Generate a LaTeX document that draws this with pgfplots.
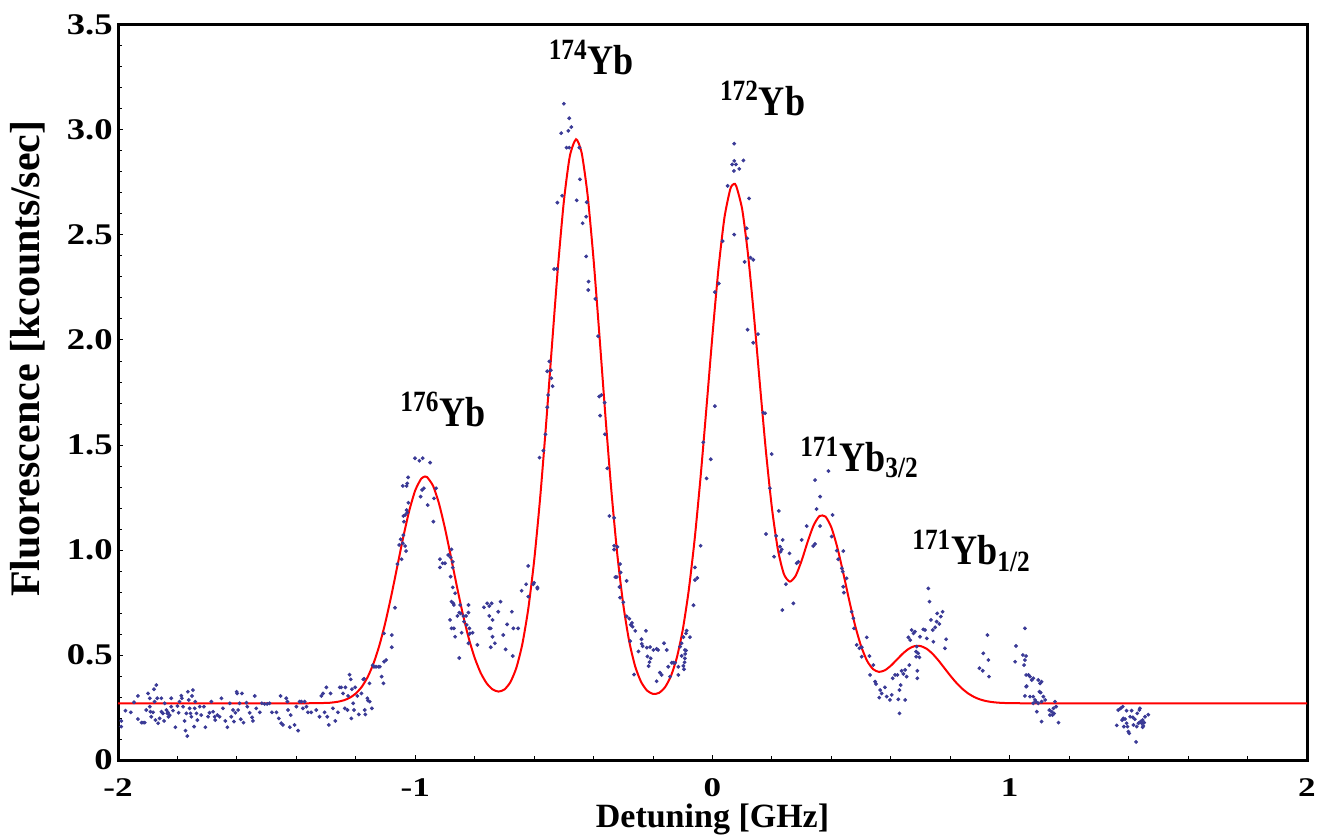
\documentclass[border=0pt]{standalone}
\usepackage{fontspec}
\setmainfont{Liberation Serif}
\newfontfamily\tickfont{Liberation Serif}[FakeStretch=1.22]
\newfontfamily\xtickfont{Liberation Serif}[FakeStretch=1.3]
\newfontfamily\peakfont{Liberation Serif}[FakeStretch=0.86]
\usepackage{pgfplots}
\pgfplotsset{compat=1.18}
\definecolor{dotblue}{RGB}{58,58,150}
\definecolor{fitred}{RGB}{255,0,0}
\begin{document}
\begin{tikzpicture}
\begin{axis}[
  scale only axis, width=594.5pt, height=367.5pt,
  xmin=-2, xmax=2, ymin=0, ymax=3.5,
  axis line style={line width=1.5pt},
  tick align=inside, xtick pos=bottom, ytick pos=left,
  xtick={-2,-1,0,1,2}, xticklabels={-2,-1,0,1,2},
  ytick={0,0.5,1,1.5,2,2.5,3,3.5},
  yticklabels={0,0.5,1.0,1.5,2.0,2.5,3.0,3.5},
  minor x tick num=4, minor y tick num=4,
  major tick length=2.5pt, minor tick length=2pt,
  every tick/.style={line width=0.5pt, black},
  yticklabel style={font=\fontsize{15}{18}\selectfont\tickfont\bfseries, inner sep=0pt, xshift=-2.5pt},
  xticklabel style={font=\fontsize{13.5}{16}\selectfont\xtickfont\bfseries, inner sep=0pt, yshift=-9pt},
  xlabel={Detuning [GHz]}, ylabel={Fluorescence [kcounts/sec]},
  xlabel style={font=\fontsize{17}{20}\selectfont\bfseries, inner sep=0pt,
                at={(axis description cs:0.5,-0.0595)},anchor=north},
  ylabel style={font=\fontsize{21}{24}\selectfont\bfseries,
                at={(axis description cs:-0.0757,0.546)},anchor=center},
]
\coordinate (ll) at (rel axis cs:0,0);
\coordinate (ur) at (rel axis cs:1,1);
% measured data
\addplot[only marks, mark=*, mark size=0.75pt, dotblue] coordinates {
(-1.989,0.186)(-1.989,0.159)(-1.975,0.235)(-1.957,0.227)(-1.946,0.275)(-1.933,0.305)(-1.933,0.195)(-1.921,0.178)(-1.916,0.178)(-1.910,0.178)
(-1.905,0.238)(-1.899,0.317)(-1.893,0.294)(-1.893,0.254)(-1.891,0.230)(-1.888,0.206)(-1.882,0.227)(-1.879,0.337)(-1.877,0.278)(-1.874,0.190)
(-1.871,0.357)(-1.868,0.294)(-1.865,0.175)(-1.860,0.198)(-1.854,0.230)(-1.854,0.294)(-1.849,0.222)(-1.845,0.186)(-1.843,0.270)(-1.837,0.238)
(-1.834,0.222)(-1.832,0.227)(-1.830,0.206)(-1.826,0.214)(-1.821,0.294)(-1.821,0.254)(-1.815,0.235)(-1.807,0.156)(-1.800,0.257)(-1.796,0.225)
(-1.793,0.278)(-1.787,0.306)(-1.785,0.294)(-1.781,0.254)(-1.776,0.186)(-1.773,0.140)(-1.770,0.222)(-1.767,0.114)(-1.765,0.325)(-1.762,0.286)
(-1.759,0.246)(-1.756,0.222)(-1.753,0.206)(-1.751,0.305)(-1.748,0.333)(-1.744,0.159)(-1.742,0.246)(-1.740,0.278)(-1.736,0.222)(-1.733,0.190)
(-1.725,0.254)(-1.720,0.214)(-1.711,0.254)(-1.706,0.156)(-1.697,0.206)(-1.692,0.225)(-1.686,0.278)(-1.680,0.230)(-1.675,0.206)(-1.673,0.190)
(-1.666,0.214)(-1.658,0.206)(-1.652,0.294)(-1.647,0.246)(-1.639,0.186)(-1.632,0.156)(-1.624,0.270)(-1.619,0.206)(-1.613,0.238)(-1.610,0.183)
(-1.605,0.225)(-1.601,0.325)(-1.599,0.317)(-1.596,0.238)(-1.591,0.270)(-1.587,0.194)(-1.583,0.317)(-1.578,0.178)(-1.568,0.273)(-1.565,0.254)
(-1.557,0.225)(-1.549,0.203)(-1.546,0.186)(-1.540,0.305)(-1.535,0.246)(-1.523,0.227)(-1.516,0.270)(-1.507,0.267)(-1.498,0.267)(-1.490,0.270)
(-1.482,0.227)(-1.467,0.227)(-1.459,0.198)(-1.453,0.305)(-1.451,0.175)(-1.445,0.167)(-1.434,0.294)(-1.430,0.278)(-1.428,0.238)(-1.422,0.156)
(-1.419,0.214)(-1.406,0.167)(-1.400,0.254)(-1.394,0.140)(-1.389,0.278)(-1.383,0.278)(-1.378,0.246)(-1.372,0.278)(-1.366,0.254)(-1.361,0.227)
(-1.350,0.227)(-1.333,0.238)(-1.322,0.206)(-1.316,0.305)(-1.310,0.317)(-1.305,0.227)(-1.299,0.346)(-1.296,0.206)(-1.291,0.167)(-1.285,0.317)
(-1.277,0.246)(-1.269,0.186)(-1.260,0.227)(-1.254,0.346)(-1.249,0.346)(-1.243,0.317)(-1.237,0.246)(-1.235,0.346)(-1.228,0.238)(-1.226,0.305)
(-1.221,0.406)(-1.217,0.384)(-1.215,0.198)(-1.213,0.337)(-1.209,0.270)(-1.206,0.238)(-1.202,0.346)(-1.195,0.305)(-1.190,0.217)(-1.181,0.317)
(-1.172,0.387)(-1.170,0.238)(-1.168,0.217)(-1.159,0.283)(-1.153,0.278)(-1.146,0.246)
(-1.175,0.384)(-1.161,0.294)(-1.154,0.365)(-1.143,0.451)(-1.139,0.444)(-1.132,0.444)(-1.124,0.444)(-1.119,0.444)(-1.113,0.397)(-1.107,0.365)
(-1.105,0.468)(-1.098,0.476)(-1.105,0.603)(-1.079,0.595)(-1.079,0.537)(-1.068,0.725)(-1.060,0.933)(-1.054,1.024)(-1.049,1.051)(-1.046,0.956)
(-1.042,1.032)(-1.040,1.071)(-1.038,1.135)(-1.034,1.019)(-1.031,0.995)(-1.040,1.162)(-1.034,1.167)(-1.029,1.190)(-1.027,1.178)(-1.023,1.225)
(-1.042,1.305)(-1.029,1.305)(-1.027,1.317)(-1.024,1.346)(-1.001,1.437)(-0.986,1.425)(-0.975,1.437)(-0.950,1.416)(-0.982,1.254)(-0.977,1.286)
(-0.971,1.294)(-0.958,1.214)(-0.939,1.135)(-0.937,1.246)(-0.930,1.294)(-0.917,0.956)(-0.917,0.917)(-0.908,0.937)(-0.900,0.937)(-0.889,0.976)
(-0.881,0.965)(-0.878,1.003)(-0.874,0.944)(-0.874,0.916)(-0.881,0.873)(-0.874,0.822)(-0.878,0.754)(-0.872,0.746)(-0.866,0.794)(-0.870,0.738)
(-0.883,0.667)(-0.878,0.627)(-0.870,0.627)(-0.866,0.587)(-0.858,0.686)(-0.852,0.702)(-0.849,0.738)(-0.847,0.698)(-0.844,0.606)(-0.838,0.686)
(-0.836,0.659)(-0.829,0.686)(-0.827,0.643)(-0.821,0.738)(-0.821,0.702)(-0.818,0.627)(-0.818,0.600)(-0.816,0.603)(-0.807,0.606)(-0.852,0.486)
(-0.821,0.556)(-0.791,0.548)(-0.769,0.727)(-0.758,0.746)(-0.751,0.733)(-0.751,0.686)(-0.751,0.627)(-0.746,0.627)(-0.743,0.746)(-0.746,0.537)
(-0.740,0.587)(-0.740,0.667)(-0.732,0.556)(-0.721,0.706)(-0.713,0.754)(-0.704,0.595)(-0.696,0.527)(-0.691,0.646)(-0.675,0.706)(-0.672,0.495)
(-0.670,0.627)(-0.654,0.627)(-0.642,0.806)(-0.627,0.837)(-0.620,0.924)(-0.620,0.778)(-0.603,0.837)(-0.589,0.816)
(-0.500,3.125)(-0.482,3.056)(-0.475,3.014)(-0.485,2.996)(-0.509,2.985)(-0.491,2.916)(-0.482,2.916)(-0.448,2.916)(-0.446,2.765)(-0.506,2.687)
(-0.522,2.654)(-0.457,2.665)(-0.423,2.656)(-0.425,2.587)(-0.437,2.556)(-0.533,2.338)(-0.524,2.338)(-0.425,2.398)(-0.417,2.278)(-0.418,2.238)
(-0.394,2.196)(-0.549,1.898)(-0.556,1.851)(-0.544,1.856)(-0.542,1.818)(-0.538,1.780)(-0.553,1.738)(-0.556,1.680)(-0.385,2.018)(-0.381,1.731)
(-0.374,1.738)(-0.363,1.702)(-0.378,1.640)(-0.362,1.551)(-0.562,1.551)(-0.569,1.473)(-0.582,1.440)(-0.354,1.389)(-0.347,1.162)(-0.331,1.153)
(-0.331,1.020)(-0.320,1.015)(-0.331,1.002)(-0.311,0.933)(-0.309,0.893)(-0.327,0.871)(-0.322,0.871)(-0.289,0.853)(-0.313,0.824)(-0.311,0.773)
(-0.600,0.844)(-0.589,0.822)(-0.300,0.751)(-0.289,0.684)(-0.280,0.673)(-0.275,0.644)(-0.269,0.635)(-0.271,0.653)(-0.260,0.615)(-0.224,0.615)
(-0.277,0.566)(-0.239,0.575)(-0.238,0.553)(-0.235,0.542)(-0.221,0.535)(-0.210,0.538)(-0.199,0.524)(-0.249,0.517)(-0.219,0.493)(-0.208,0.484)
(-0.188,0.529)(-0.183,0.524)(-0.212,0.466)(-0.215,0.447)(-0.264,0.407)(-0.188,0.375)
(-0.177,0.416)(-0.171,0.405)(-0.163,0.556)(-0.154,0.524)(-0.149,0.444)(-0.143,0.397)(-0.137,0.463)(-0.132,0.463)(-0.126,0.463)(-0.115,0.444)
(-0.115,0.405)(-0.109,0.540)(-0.104,0.556)(-0.098,0.448)(-0.093,0.484)(-0.093,0.524)(-0.089,0.603)
(0.073,2.935)(0.066,2.836)(0.073,2.853)(0.079,2.836)(0.072,2.805)(0.090,2.815)(0.104,2.855)(0.051,2.734)(0.123,2.674)(0.073,2.502)
(0.034,2.471)(0.115,2.532)(0.117,2.484)(0.128,2.392)(0.137,2.382)(0.108,2.372)(0.021,2.269)(0.008,2.228)(0.118,2.049)(0.153,2.028)
(0.137,1.987)(0.008,1.685)(-0.031,1.513)(-0.006,1.432)(-0.020,1.341)(-0.040,1.020)(-0.059,0.917)(-0.059,0.857)(-0.051,0.867)(-0.064,0.737)
(-0.076,0.585)(-0.087,0.616)(-0.098,0.585)(-0.089,0.522)(-0.092,0.505)(-0.104,0.496)(-0.094,0.465)(-0.096,0.432)
(0.171,1.654)(0.177,1.651)(0.199,1.457)(0.193,1.294)(0.180,1.076)(0.214,1.067)(0.207,0.968)(0.223,1.186)(0.227,1.016)(0.229,0.992)
(0.233,1.003)(0.236,1.048)(0.259,0.984)(0.247,0.837)(0.235,0.714)(0.272,0.746)(0.283,0.937)(0.289,0.944)(0.300,1.048)(0.317,1.114)
(0.339,1.019)(0.345,1.333)(0.350,1.195)(0.362,1.254)(0.362,1.114)(0.345,1.029)(0.390,1.376)(0.404,1.167)(0.401,1.064)(0.418,0.997)
(0.423,0.956)(0.435,0.913)(0.438,0.897)(0.440,0.995)(0.440,0.825)(0.442,0.797)(0.451,0.865)(0.468,0.706)(0.474,0.675)(0.476,0.627)
(0.485,0.548)(0.494,0.532)(0.502,0.537)(0.502,0.492)(0.519,0.584)(0.528,0.495)(0.530,0.405)(0.541,0.452)(0.547,0.373)(0.550,0.362)
(0.564,0.333)(0.561,0.297)(0.569,0.317)(0.580,0.346)(0.586,0.302)(0.597,0.286)(0.603,0.310)(0.606,0.389)(0.614,0.405)(0.622,0.405)
(0.629,0.333)(0.625,0.289)(0.629,0.222)(0.633,0.357)(0.636,0.425)(0.642,0.410)(0.648,0.429)(0.648,0.286)(0.653,0.397)(0.662,0.452)
(0.670,0.619)(0.681,0.611)(0.685,0.516)(0.689,0.425)(0.689,0.389)(0.692,0.508)(0.696,0.489)(0.685,0.492)(0.698,0.587)(0.709,0.622)
(0.715,0.619)(0.721,0.579)(0.726,0.817)(0.730,0.754)(0.735,0.667)(0.741,0.619)(0.743,0.563)(0.749,0.632)(0.754,0.659)(0.756,0.698)
(0.763,0.648)(0.768,0.683)(0.774,0.706)(0.782,0.532)(0.786,0.575)(0.659,0.584)(0.665,0.571)(0.676,0.603)(0.687,0.540)
(0.898,0.437)(0.909,0.425)(0.911,0.508)(0.925,0.595)(0.928,0.476)(0.930,0.397)
(1.051,0.627)(1.021,0.543)(1.018,0.468)(1.044,0.500)(1.051,0.476)(1.055,0.495)(1.048,0.452)(1.055,0.405)(1.063,0.405)(1.068,0.397)
(1.057,0.352)(1.055,0.349)(1.074,0.381)(1.079,0.389)(1.096,0.381)(1.102,0.365)(1.107,0.373)(1.100,0.325)(1.104,0.321)(1.051,0.305)
(1.068,0.302)(1.079,0.302)(1.088,0.278)(1.096,0.270)(1.107,0.278)(1.113,0.302)(1.119,0.286)(1.091,0.230)(1.107,0.183)(1.133,0.238)
(1.141,0.230)(1.147,0.246)(1.149,0.222)(1.152,0.278)(1.156,0.254)(1.144,0.214)(1.164,0.178)(1.135,0.214)(1.079,0.270)(1.085,0.286)
(1.360,0.165)(1.365,0.238)(1.373,0.246)(1.380,0.254)(1.382,0.198)(1.388,0.195)(1.393,0.235)(1.393,0.175)(1.396,0.159)(1.399,0.135)
(1.402,0.127)(1.405,0.206)(1.410,0.235)(1.414,0.203)(1.416,0.167)(1.421,0.194)(1.425,0.086)(1.427,0.159)(1.429,0.222)(1.433,0.175)
(1.436,0.238)(1.438,0.246)(1.440,0.183)(1.444,0.175)(1.447,0.190)(1.449,0.162)(1.452,0.178)(1.455,0.206)(1.466,0.216)(1.447,0.156)
(1.384,0.159)(1.378,0.190)
};
% fit
\addplot[fitred, line width=1pt, smooth, tension=0.4] coordinates {
(-2.00,0.27)(-1.40,0.27)(-1.30,0.2718)(-1.28,0.2737)(-1.26,0.2775)(-1.24,0.2845)(-1.22,0.2967)(-1.20,0.3168)
(-1.18,0.3484)(-1.16,0.3954)(-1.14,0.4615)(-1.12,0.5491)(-1.10,0.6585)(-1.08,0.7862)(-1.06,0.9250)(-1.04,1.0637)
(-1.02,1.1881)(-1.00,1.2841)(-0.98,1.3395)(-0.967,1.3500)(-0.96,1.3469)(-0.94,1.3054)(-0.92,1.2205)(-0.90,1.1031)
(-0.88,0.9672)(-0.86,0.8272)(-0.84,0.6951)(-0.82,0.5796)(-0.80,0.4863)(-0.78,0.4151)(-0.76,0.3658)(-0.74,0.3363)
(-0.72,0.3258)(-0.70,0.3358)(-0.68,0.3707)(-0.66,0.4386)(-0.64,0.5505)(-0.62,0.7177)(-0.60,0.9492)(-0.58,1.2455)
(-0.56,1.5961)(-0.54,1.9759)(-0.52,2.3463)(-0.50,2.6611)(-0.48,2.8752)(-0.459,2.9560)(-0.44,2.8897)(-0.42,2.6877)
(-0.40,2.3809)(-0.38,2.0140)(-0.36,1.6331)(-0.34,1.2783)(-0.32,0.9754)(-0.30,0.7374)(-0.28,0.5632)(-0.26,0.4451)
(-0.24,0.3712)(-0.22,0.3304)(-0.20,0.3146)(-0.18,0.3196)(-0.16,0.3461)(-0.14,0.3994)(-0.12,0.4876)(-0.10,0.6208)
(-0.08,0.8077)(-0.06,1.0522)(-0.04,1.3500)(-0.02,1.6838)(0.00,2.0258)(0.02,2.3384)(0.04,2.5813)(0.06,2.7196)
(0.072,2.7430)(0.08,2.7325)(0.10,2.6211)(0.12,2.4003)(0.14,2.1057)(0.16,1.7801)(0.18,1.4660)(0.20,1.1985)
(0.22,1.0018)(0.24,0.8860)(0.26,0.8494)(0.28,0.8780)(0.30,0.9501)(0.32,1.0388)(0.34,1.1171)(0.36,1.1619)
(0.38,1.1591)(0.40,1.1069)(0.42,1.0115)(0.44,0.8895)(0.46,0.7595)(0.48,0.6393)(0.50,0.5413)(0.52,0.4722)
(0.54,0.4327)(0.56,0.4196)(0.58,0.4274)(0.60,0.4491)(0.62,0.4777)(0.64,0.5064)(0.66,0.5295)(0.68,0.5425)
(0.70,0.5426)(0.72,0.5301)(0.74,0.5062)(0.76,0.4742)(0.78,0.4380)(0.80,0.4016)(0.82,0.3681)(0.84,0.3396)
(0.86,0.3170)(0.88,0.3002)(0.90,0.2885)(0.92,0.2808)(0.94,0.2760)(0.96,0.2731)(0.98,0.2716)(1.00,0.2708)
(1.04,0.2702)(1.10,0.27)(2.00,0.27)
};
\begin{scope}[every node/.style={font=\fontsize{21}{24}\selectfont\peakfont\bfseries, inner sep=0pt}]
\node[anchor=base west] at (axis cs:-1.051,1.586) {\textsuperscript{176}Yb};
\node[anchor=base west] at (axis cs:-0.552,3.262) {\textsuperscript{174}Yb};
\node[anchor=base west] at (axis cs:0.024,3.071) {\textsuperscript{172}Yb};
\node[anchor=base west] at (axis cs:0.294,1.373) {\textsuperscript{171}Yb\textsubscript{3/2}};
\node[anchor=base west] at (axis cs:0.671,0.929) {\textsuperscript{171}Yb\textsubscript{1/2}};
\end{scope}
\end{axis}
\pgfresetboundingbox
\path[use as bounding box] ([xshift=-59pt,yshift=-37pt]ll) rectangle ([xshift=13pt,yshift=12.5pt]ur);
\end{tikzpicture}
\end{document}
